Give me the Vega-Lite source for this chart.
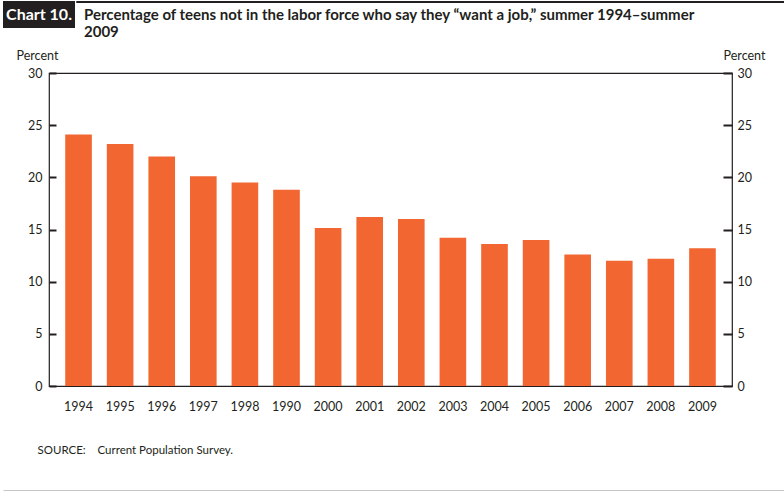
{
  "$schema": "https://vega.github.io/schema/vega-lite/v6.json",
  "padding": 0,
  "background": "white",
  "spacing": 7,
  "config": {"font": "Lato", "view": {"stroke": null}},
  "vconcat": [
    {
      "spacing": 0,
      "hconcat": [
        {
          "width": 72,
          "height": 27,
          "view": {"fill": "#231f20", "stroke": null},
          "data": {"values": [{"label": "Chart 10."}]},
          "mark": {"type": "text", "color": "white", "fontWeight": "bold", "fontSize": 16},
          "encoding": {"text": {"field": "label"}}
        },
        {
          "width": 712,
          "height": 1,
          "view": {"stroke": "#231f20", "strokeWidth": 1},
          "title": {
            "text": ["Percentage of teens not in the labor force who say they “want a job,” summer 1994–summer", "2009"],
            "orient": "bottom",
            "anchor": "start",
            "frame": "group",
            "dx": 8,
            "offset": 6,
            "fontSize": 15,
            "fontWeight": "bold",
            "color": "#231f20",
            "lineHeight": 17,
            "baseline": "top"
          },
          "data": {"values": []},
          "mark": "text",
          "encoding": {}
        }
      ]
    },
    {
      "spacing": 0,
      "hconcat": [
        {
          "width": 12,
          "height": 1,
          "data": {"values": []},
          "mark": "text",
          "encoding": {}
        },
        {
          "width": 683,
          "height": 313,
          "view": {"stroke": "#231f20", "strokeWidth": 1.2},
          "data": {
            "values": [
              {"year": "1994", "percent": 24.1},
              {"year": "1995", "percent": 23.2},
              {"year": "1996", "percent": 22.0},
              {"year": "1997", "percent": 20.1},
              {"year": "1998", "percent": 19.5},
              {"year": "1990", "percent": 18.8},
              {"year": "2000", "percent": 15.15},
              {"year": "2001", "percent": 16.2},
              {"year": "2002", "percent": 16.0},
              {"year": "2003", "percent": 14.2},
              {"year": "2004", "percent": 13.6},
              {"year": "2005", "percent": 14.0},
              {"year": "2006", "percent": 12.6},
              {"year": "2007", "percent": 12.0},
              {"year": "2008", "percent": 12.2},
              {"year": "2009", "percent": 13.2}
            ]
          },
          "encoding": {
            "x": {
              "field": "year",
              "type": "ordinal",
              "sort": null,
              "scale": {"paddingInner": 0.36, "paddingOuter": 0.39},
              "axis": {
                "title": "SOURCE:\u00a0\u00a0\u00a0\u00a0Current Population Survey.",
                "domain": false,
                "ticks": false,
                "labelAngle": 0,
                "labelFontSize": 12.5,
                "labelPadding": 14,
                "labelColor": "#231f20",
                "titleX": -12,
                "titleY": 67,
                "titleAlign": "left",
                "titleBaseline": "alphabetic",
                "titleFontSize": 11.5,
                "titleFontWeight": "normal",
                "titleColor": "#231f20"
              }
            }
          },
          "layer": [
            {
              "mark": {"type": "bar", "color": "#f26632"},
              "encoding": {
                "y": {
                  "field": "percent",
                  "type": "quantitative",
                  "scale": {"domain": [0, 30]},
                  "axis": {
                    "values": [0, 5, 10, 15, 20, 25, 30],
                    "offset": -7,
                    "domain": false,
                    "grid": false,
                    "tickSize": 7,
                    "tickWidth": 2,
                    "tickColor": "#231f20",
                    "labelPadding": 7,
                    "labelFontSize": 12.5,
                    "labelColor": "#231f20",
                    "title": "Percent",
                    "titleAngle": 0,
                    "titleX": -40,
                    "titleY": -14,
                    "titleAlign": "left",
                    "titleBaseline": "alphabetic",
                    "titleFontWeight": "normal",
                    "titleFontSize": 12.5,
                    "titleColor": "#231f20"
                  }
                }
              }
            },
            {
              "mark": {"type": "bar", "opacity": 0},
              "encoding": {
                "y": {
                  "field": "percent",
                  "type": "quantitative",
                  "scale": {"domain": [0, 30]},
                  "axis": {
                    "orient": "right",
                    "values": [0, 5, 10, 15, 20, 25, 30],
                    "offset": -9,
                    "domain": false,
                    "grid": false,
                    "tickSize": 9,
                    "tickWidth": 2,
                    "tickColor": "#231f20",
                    "labelPadding": 5,
                    "labelFontSize": 12.5,
                    "labelColor": "#231f20",
                    "title": "Percent",
                    "titleAngle": 0,
                    "titleX": 42,
                    "titleY": -14,
                    "titleAlign": "right",
                    "titleBaseline": "alphabetic",
                    "titleFontWeight": "normal",
                    "titleFontSize": 12.5,
                    "titleColor": "#231f20"
                  }
                }
              }
            }
          ],
          "resolve": {"scale": {"y": "independent"}}
        }
      ]
    },
    {
      "width": 784,
      "height": 27,
      "data": {"values": [{"v": 0}]},
      "mark": {"type": "point", "opacity": 0},
      "encoding": {
        "x": {
          "field": "v",
          "type": "quantitative",
          "scale": {"domain": [0, 1]},
          "axis": {"domainColor": "#231f20", "domainWidth": 1.5, "ticks": false, "labels": false, "grid": false, "title": null}
        }
      }
    }
  ]
}
